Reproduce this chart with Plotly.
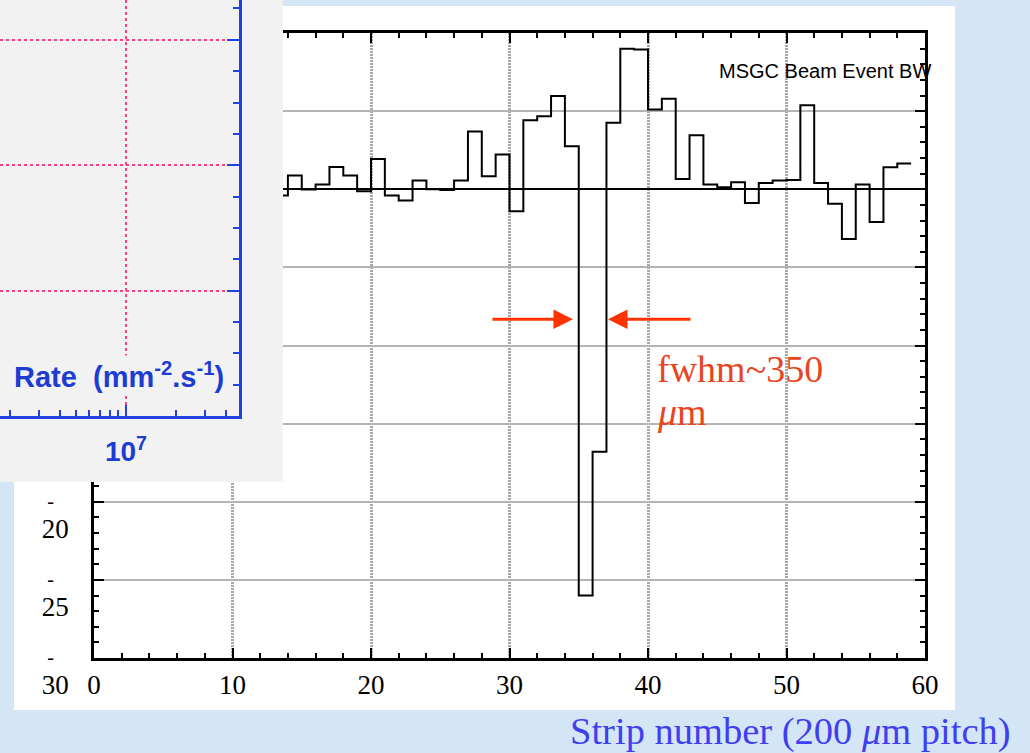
import plotly.graph_objects as go

W, H = 1030, 753

SERIF = "Liberation Serif, Times New Roman, serif"
SANS = "Liberation Sans, Arial, sans-serif"

# ---- beam event: pulse height per strip, bins [n, n+1) ----
strip_first = 13
pulse_height = [-0.4, 0.88, -0.02, 0.3, 1.43, 0.88, -0.13, 1.94, -0.4, -0.72,
                0.56, 0.0, -0.05, 0.56, 3.7, 0.83, 2.22, -1.41, 4.42, 4.68,
                5.97, 2.76, -26.0, -16.8, 4.25, 9.0, 8.95, 5.1, 5.8, 0.66,
                3.46, 0.3, 0.13, 0.45, -0.88, 0.4, 0.56, 0.6, 5.38, 0.4,
                -0.92, -3.18, 0.3, -2.1, 1.41, 1.65]

x_ticks = [0, 10, 20, 30, 40, 50, 60]
y_ticks = [-30, -25, -20, -15, -10, -5, 0, 5, 10]
# labels left uncovered by the inset panel (sign printed on its own line)
y_labelled = [-30, -25, -20]

# ---- inset (rate plot corner) ----
rate_major = [1e7]
rate_minor = [2e6, 3e6, 4e6, 5e6, 6e6, 7e6, 8e6, 9e6, 2e7, 3e7, 4e7]
gain_major = [4, 8, 12]

# fwhm markers (strip positions of the arrow tips)
fwhm_left, fwhm_right, fwhm_level = 34.58, 37.11, -8.32

edges = list(range(strip_first, strip_first + len(pulse_height) + 1))
steps = pulse_height + [pulse_height[-1]]

fig = go.Figure()

fig.add_trace(go.Scatter(
    x=edges, y=steps, mode="lines", line=dict(shape="hv", color="black", width=2),
    xaxis="x", yaxis="y", showlegend=False, hoverinfo="skip"))

# axis carrying the minus signs of the y labels
fig.add_trace(go.Scatter(x=[None], y=[None], xaxis="x", yaxis="y4",
                         showlegend=False, hoverinfo="skip"))
# cover panel and inset
fig.add_trace(go.Scatter(x=[None], y=[None], xaxis="x2", yaxis="y2",
                         showlegend=False, hoverinfo="skip"))
fig.add_trace(go.Scatter(x=[None], y=[None], xaxis="x3", yaxis="y3",
                         showlegend=False, hoverinfo="skip"))

BLUE = "#2142dc"
BLUE_TXT = "#1c3cd2"
PINK = "#ff3d7f"
RED_TXT = "#e8461e"
TICKFONT = dict(family=SERIF, size=27, color="black")

fig.update_layout(
    width=W, height=H,
    margin=dict(l=0, r=0, t=0, b=0, autoexpand=False),
    paper_bgcolor="#d4e5f6",
    plot_bgcolor="#f2f2f2",
    showlegend=False,
    xaxis=dict(
        domain=[94 / W, 925 / W], range=[0, 60], anchor="y",
        tickmode="array", tickvals=x_ticks,
        ticks="inside", ticklen=10, tickwidth=2, tickcolor="black",
        showline=True, linecolor="black", linewidth=2.5, mirror="ticks",
        showgrid=True, gridcolor="#a8a8a8", gridwidth=3, griddash="2px,1px",
        zeroline=False,
        minor=dict(dtick=2, tick0=0, ticks="inside", ticklen=5, tickwidth=2,
                   tickcolor="black", showgrid=False),
        tickfont=TICKFONT,
        ticklabelstandoff=1,
    ),
    yaxis=dict(
        domain=[1 - 658 / H, 1 - 33 / H], range=[-30, 10], anchor="x",
        tickmode="array", tickvals=y_ticks,
        ticktext=[str(-v) if v in y_labelled else "" for v in y_ticks],
        ticks="inside", ticklen=10, tickwidth=2, tickcolor="black",
        showline=True, linecolor="black", linewidth=2.5, mirror="ticks",
        showgrid=True, gridcolor="#b4b4b4", gridwidth=2,
        zeroline=True, zerolinecolor="black", zerolinewidth=2,
        minor=dict(dtick=1, tick0=0, ticks="inside", ticklen=5, tickwidth=2,
                   tickcolor="black", showgrid=False),
        tickfont=TICKFONT,
        ticklabelshift=27, ticklabelstandoff=17,
    ),
    yaxis4=dict(
        overlaying="y", anchor="x", side="left", range=[-30, 10],
        tickmode="array", tickvals=y_labelled, ticktext=["-"] * len(y_labelled),
        ticks="", showline=False, showgrid=False, zeroline=False,
        tickfont=dict(family=SERIF, size=20, color="black"),
        ticklabelshift=-1, ticklabelstandoff=39,
    ),
    xaxis2=dict(domain=[0, 283 / W], range=[0, 1], anchor="y2", visible=False),
    yaxis2=dict(domain=[1 - 482 / H, 1], range=[0, 1], anchor="x2", visible=False),
    xaxis3=dict(
        type="log", domain=[0, 239 / W], range=[6.241, 7.681], anchor="y3",
        tickmode="array", tickvals=rate_major, ticktext=["10<sup>7</sup>"],
        ticks="inside", ticklen=11, tickwidth=2, tickcolor=BLUE,
        showline=True, linecolor=BLUE, linewidth=2.5,
        showgrid=True, gridcolor=PINK, gridwidth=1.5, griddash="dot",
        zeroline=False,
        minor=dict(tickmode="array", tickvals=rate_minor, ticks="inside",
                   ticklen=6, tickwidth=2, tickcolor=BLUE, showgrid=False),
        tickfont=dict(family=SANS, size=28, color=BLUE_TXT, weight="bold"),
        ticklabelstandoff=9,
    ),
    yaxis3=dict(
        domain=[1 - 416 / H, 1], range=[0, 416 / 31.35], anchor="x3", side="right",
        tickmode="array", tickvals=gain_major, showticklabels=False,
        ticks="inside", ticklen=12, tickwidth=2, tickcolor=BLUE,
        showline=True, linecolor=BLUE, linewidth=2.5,
        showgrid=True, gridcolor=PINK, gridwidth=1.5, griddash="dot",
        zeroline=False,
        minor=dict(dtick=1, tick0=0, ticks="inside", ticklen=6, tickwidth=2,
                   tickcolor=BLUE, showgrid=False),
    ),
    shapes=[dict(type="rect", xref="paper", yref="paper",
                 x0=14 / W, x1=955 / W, y0=1 - 710 / H, y1=1 - 6 / H,
                 fillcolor="white", line=dict(width=0), layer="below")],
    annotations=[
        dict(text="MSGC Beam Event BW", xref="paper", yref="paper",
             x=933 / W, y=1 - 71 / H, xanchor="right", yanchor="middle",
             showarrow=False, font=dict(family=SANS, size=20, color="black")),
        dict(text="fwhm~350", xref="x", yref="y",
             x=40.5, y=-11.5, xanchor="left", yanchor="middle",
             showarrow=False, font=dict(family=SERIF, size=38, color=RED_TXT)),
        dict(text="<i>\u03bc</i>m", xref="x", yref="y",
             x=40.5, y=-14.25, xanchor="left", yanchor="middle",
             showarrow=False, font=dict(family=SERIF, size=38, color=RED_TXT)),
        dict(text="", xref="x", yref="y", x=fwhm_left, y=fwhm_level,
             ax=-82, ay=0, showarrow=True, arrowhead=2, arrowsize=1.3,
             arrowwidth=3, arrowcolor="#ff3300"),
        dict(text="", xref="x", yref="y", x=fwhm_right, y=fwhm_level,
             ax=84, ay=0, showarrow=True, arrowhead=2, arrowsize=1.3,
             arrowwidth=3, arrowcolor="#ff3300"),
        dict(text="Strip number (200 <i>\u03bc</i>m pitch)", xref="paper", yref="paper",
             x=1013 / W, y=1 - 731 / H, xanchor="right", yanchor="middle",
             showarrow=False, font=dict(family=SERIF, size=38.5, color="#3f3ff0")),
        dict(text="Rate  (mm<sup>-2</sup>.s<sup>-1</sup>)", xref="paper", yref="paper",
             x=12 / W, y=1 - 375 / H, xanchor="left", yanchor="middle",
             showarrow=False, bgcolor="#f2f2f2",
             font=dict(family=SANS, size=29, color=BLUE_TXT, weight="bold")),
    ],
)

fig.write_html("out.html")
